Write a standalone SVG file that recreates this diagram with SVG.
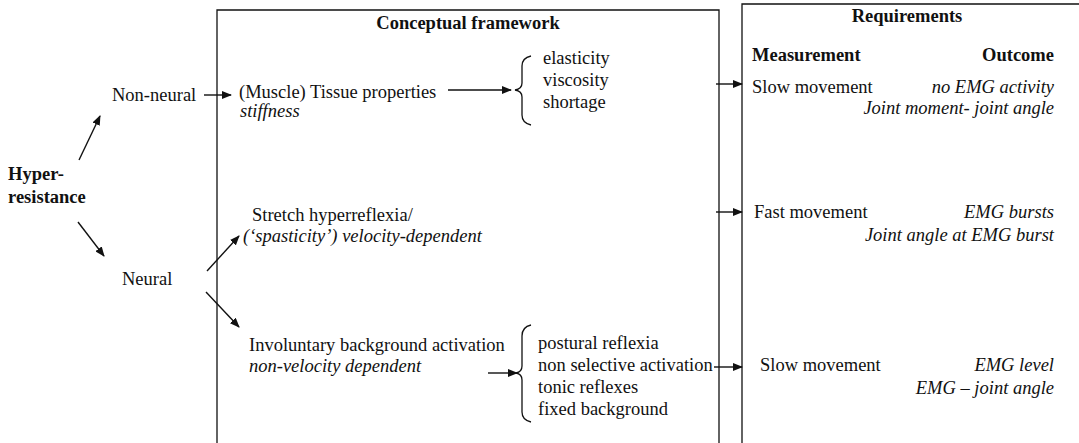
<svg xmlns="http://www.w3.org/2000/svg" width="1079" height="443" viewBox="0 0 1079 443">
<style>
text{font-family:"Liberation Serif","Times New Roman",serif;font-size:18.5px;fill:#111}
.b{font-weight:bold}
.i{font-style:italic}
.r{text-anchor:end}
.m{text-anchor:middle}
.frame{fill:none;stroke:#111;stroke-width:1.3}
.c{fill:none;stroke:#111;stroke-width:1.4}
.br{fill:none;stroke:#111;stroke-width:1.3}
</style>
<defs>
<marker id="ah" markerWidth="10" markerHeight="8" refX="9" refY="4" orient="auto" markerUnits="userSpaceOnUse">
<path d="M0,0 L10,4 L0,8 Z" fill="#111"/>
</marker>
</defs>
<rect width="1079" height="443" fill="#fff"/>
<g id="framework-box">
<path class="frame" d="M217,450 V10 H719 V450"/>
<text class="b m" x="468" y="29">Conceptual framework</text>
</g>
<g id="requirements-box">
<path class="frame" d="M742,450 V4 H1085"/>
<text class="b m" x="907" y="22">Requirements</text>
<text class="b" x="752" y="61">Measurement</text>
<text class="b r" x="1054" y="61">Outcome</text>
</g>
<g id="hyperresistance">
<text class="b" x="8" y="180">Hyper-</text>
<text class="b" x="8" y="203">resistance</text>
</g>
<g id="non-neural"><text x="112" y="101">Non-neural</text></g>
<g id="neural"><text x="122" y="285">Neural</text></g>
<g id="tissue">
<text x="239" y="98">(Muscle) Tissue properties</text>
<text class="i" x="240" y="117">stiffness</text>
</g>
<g id="tissue-list">
<path class="br" d="M531,56 Q522,58 522,66 V83 Q522,89 515,90 Q522,91 522,97 V115 Q522,123 531,125"/>
<text x="543" y="64">elasticity</text>
<text x="543" y="86">viscosity</text>
<text x="543" y="108">shortage</text>
</g>
<g id="stretch">
<text x="252" y="221">Stretch hyperreflexia/</text>
<text class="i" x="243" y="242">(‘spasticity’) velocity-dependent</text>
</g>
<g id="involuntary">
<text x="249" y="351">Involuntary background activation</text>
<text class="i" x="249" y="372">non-velocity dependent</text>
</g>
<g id="involuntary-list">
<path class="br" d="M531,325 Q522,327 522,336 V366 Q522,372 516,373 Q522,374 522,380 V412 Q522,420 531,422"/>
<text x="538" y="349">postural reflexia</text>
<text x="538" y="371">non selective activation</text>
<text x="538" y="393">tonic reflexes</text>
<text x="538" y="415">fixed background</text>
</g>
<g id="req-slow1">
<text x="752" y="93">Slow movement</text>
<text class="i r" x="1054" y="93">no EMG activity</text>
<text class="i r" x="1054" y="114">Joint moment- joint angle</text>
</g>
<g id="req-fast">
<text x="754" y="218">Fast movement</text>
<text class="i r" x="1054" y="218">EMG bursts</text>
<text class="i r" x="1054" y="241">Joint angle at EMG burst</text>
</g>
<g id="req-slow2">
<text x="760" y="371">Slow movement</text>
<text class="i r" x="1054" y="371">EMG level</text>
<text class="i r" x="1054" y="394">EMG – joint angle</text>
</g>
<g id="connectors">
<line class="c" x1="79" y1="160" x2="100" y2="116" marker-end="url(#ah)"/>
<line class="c" x1="78" y1="222" x2="104" y2="256" marker-end="url(#ah)"/>
<line class="c" x1="204" y1="95" x2="231" y2="95" marker-end="url(#ah)"/>
<line class="c" x1="448" y1="90" x2="511" y2="90" marker-end="url(#ah)"/>
<line class="c" x1="207" y1="271" x2="239" y2="236" marker-end="url(#ah)"/>
<line class="c" x1="206" y1="292" x2="239" y2="327" marker-end="url(#ah)"/>
<line class="c" x1="488" y1="373" x2="517" y2="373" marker-end="url(#ah)"/>
<line class="c" x1="716" y1="84" x2="742" y2="84" marker-end="url(#ah)"/>
<line class="c" x1="716" y1="212" x2="742" y2="212" marker-end="url(#ah)"/>
<line class="c" x1="714" y1="367" x2="742" y2="367" marker-end="url(#ah)"/>
</g>
</svg>
